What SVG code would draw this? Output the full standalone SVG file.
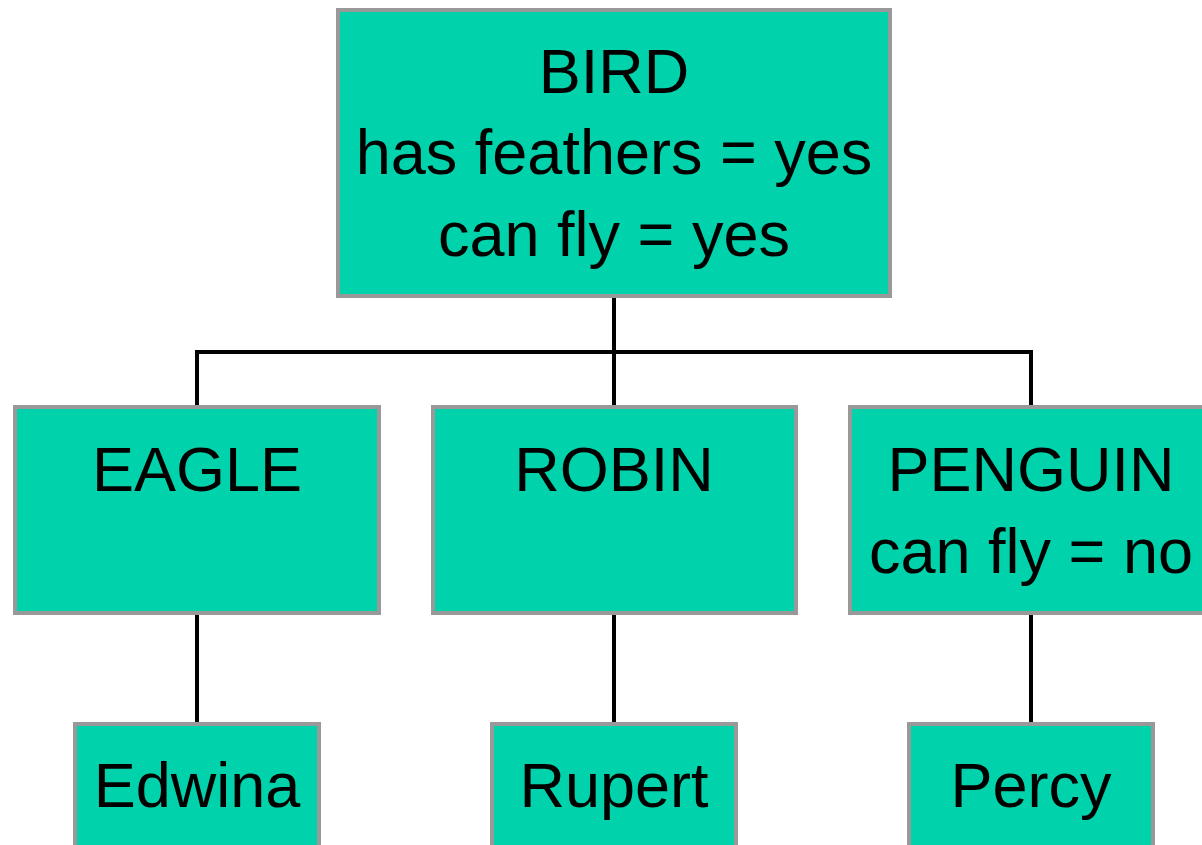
<svg xmlns="http://www.w3.org/2000/svg" width="1202" height="845" viewBox="0 0 1202 845">
  <style>
    .box { fill: #00D3AB; stroke: #999999; stroke-width: 4; }
    .lbl { font-family: "Liberation Sans", Arial, sans-serif; font-size: 63px; fill: #000000; text-anchor: middle; }
    .wire { stroke: #000000; stroke-width: 4; fill: none; }
  </style>
  <rect width="1202" height="845" fill="#ffffff"/>

  <!-- hierarchy connectors -->
  <g id="connectors">
    <path class="wire" d="M614 297 V352 M197 352 H1031 M197 350 V406 M614 352 V406 M1031 350 V406"/>
    <path class="wire" d="M197 614 V723 M614 614 V723 M1031 614 V723"/>
  </g>

  <g id="bird">
    <rect class="box" x="338" y="10" width="552" height="286"/>
    <text class="lbl" x="614" y="93">BIRD</text>
    <text class="lbl" x="614" y="174">has feathers = yes</text>
    <text class="lbl" x="614" y="256">can fly = yes</text>
  </g>

  <g id="eagle">
    <rect class="box" x="15" y="407" width="364" height="206"/>
    <text class="lbl" x="197" y="491">EAGLE</text>
  </g>

  <g id="robin">
    <rect class="box" x="433" y="407" width="363" height="206"/>
    <text class="lbl" x="614" y="491">ROBIN</text>
  </g>

  <g id="penguin">
    <rect class="box" x="850" y="407" width="364" height="206"/>
    <text class="lbl" x="1031" y="491">PENGUIN</text>
    <text class="lbl" x="1031" y="573">can fly = no</text>
  </g>

  <g id="edwina">
    <rect class="box" x="75" y="724" width="244" height="130"/>
    <text class="lbl" x="197" y="807">Edwina</text>
  </g>

  <g id="rupert">
    <rect class="box" x="492" y="724" width="244" height="130"/>
    <text class="lbl" x="614" y="807">Rupert</text>
  </g>

  <g id="percy">
    <rect class="box" x="909" y="724" width="244" height="130"/>
    <text class="lbl" x="1031" y="807">Percy</text>
  </g>
</svg>
